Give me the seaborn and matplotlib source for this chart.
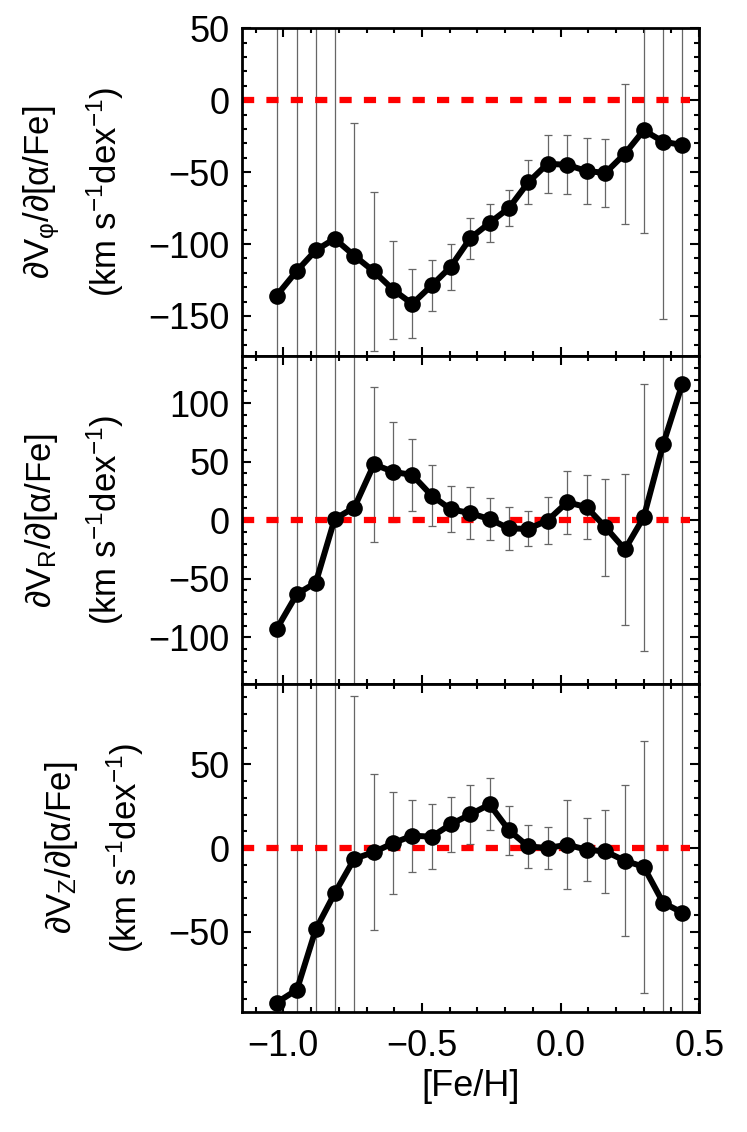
import numpy as np
import pandas as pd
import seaborn as sns
import matplotlib
matplotlib.use("Agg")
import matplotlib.pyplot as plt
from matplotlib.ticker import MultipleLocator

# ---- data ----
feh = [-1.024, -0.951, -0.883, -0.815, -0.744, -0.673, -0.603, -0.535, -0.465, -0.397, -0.326,
       -0.256, -0.186, -0.117, -0.047, 0.024, 0.094, 0.162, 0.232, 0.300, 0.370, 0.439]

dvphi = [-135.8, -118.6, -104.4, -96.3, -108.1, -119.1, -131.9, -141.6, -128.8, -116.0, -96.0,
         -85.3, -74.9, -57.2, -44.2, -44.9, -49.3, -50.5, -37.2, -20.9, -28.8, -31.2]
err_vphi = [500, 500, 500, 500, 92.5, 55.6, 34.0, 24.0, 18.0, 16.0, 14.1,
            13.3, 12.5, 15.3, 20.3, 20.5, 23.0, 23.6, 48.6, 71.2, 123.3, 500]

dvr = [-92.9, -63.1, -53.4, 0.9, 10.8, 47.7, 41.2, 38.6, 21.0, 9.4, 6.0,
       0.9, -7.1, -7.4, -0.3, 15.3, 11.1, -6.0, -25.0, 2.6, 64.8, 116.2]
err_vr = [500, 500, 500, 500, 500, 66.0, 43.0, 30.4, 26.0, 19.6, 22.0,
          18.0, 18.0, 15.0, 20.0, 27.0, 27.5, 41.3, 64.3, 114.0, 500, 500]

dvz = [-92.4, -84.7, -48.6, -27.1, -6.4, -2.4, 3.0, 7.4, 6.8, 14.1, 20.1,
       26.1, 10.6, 1.0, 0.0, 2.0, -1.0, -2.0, -7.6, -11.2, -32.7, -38.6]
err_vz = [500, 500, 500, 500, 97.0, 46.7, 30.7, 21.5, 19.3, 16.5, 17.4,
          15.5, 14.5, 12.7, 12.7, 26.6, 18.7, 24.7, 45.0, 75.4, 500, 500]

ylabels1 = ["∂V$_{\\mathrm{φ}}$/∂[α/Fe]", "∂V$_{\\mathrm{R}}$/∂[α/Fe]", "∂V$_{\\mathrm{Z}}$/∂[α/Fe]"]
ylabel2 = "(km s$^{-1}$dex$^{-1}$)"
xlabel = "[Fe/H]"

ylims = [(-178, 50), (-140, 140), (-98, 98)]
label_x = [(-0.4376, -0.2998), (-0.4376, -0.2998), (-0.394, -0.256)]

# ---- style ----
sns.set_theme(style="white")
plt.rcParams["font.family"] = ["Liberation Sans", "DejaVu Sans"]
plt.rcParams["mathtext.fontset"] = "custom"
plt.rcParams["mathtext.rm"] = "Liberation Sans"
plt.rcParams["mathtext.it"] = "Liberation Sans:italic"
plt.rcParams["mathtext.bf"] = "Liberation Sans:bold"
plt.rcParams["axes.unicode_minus"] = True
for k in ["text.color", "axes.labelcolor", "xtick.color", "ytick.color", "axes.edgecolor"]:
    plt.rcParams[k] = "black"

fig, axes = plt.subplots(3, 1, figsize=(7.47, 11.32), dpi=100, sharex=True)
fig.subplots_adjust(left=0.324, right=0.936, top=0.975, bottom=0.106, hspace=0)

series = [(dvphi, err_vphi), (dvr, err_vr), (dvz, err_vz)]
for i, (ax, (y, e)) in enumerate(zip(axes, series)):
    df = pd.DataFrame({"feh": feh, "val": y, "err": e})
    ax.errorbar(df["feh"], df["val"], yerr=df["err"], fmt="none", ecolor="0.4",
                elinewidth=0.9, capsize=3.2, capthick=0.9, zorder=1)
    ax.axhline(0, xmin=0, xmax=0.98, color="#ff0000", lw=4.5, dashes=(1.95, 1.95), zorder=2)
    sns.lineplot(data=df, x="feh", y="val", ax=ax, color="black", lw=4.3, marker="o",
                 markersize=12, markeredgewidth=0, zorder=3)
    ax.set_xlim(-1.149, 0.5)
    ax.set_ylim(*ylims[i])
    ax.yaxis.set_major_locator(MultipleLocator(50))
    ax.yaxis.set_minor_locator(MultipleLocator(10))
    ax.xaxis.set_major_locator(MultipleLocator(0.5))
    ax.xaxis.set_minor_locator(MultipleLocator(0.1))
    ax.tick_params(which="both", direction="in", top=True, right=True, bottom=True, left=True,
                   color="black", labelcolor="black", width=1.5)
    ax.tick_params(which="major", length=6.7, labelsize=26, pad=9)
    ax.tick_params(which="minor", length=3.4)
    ax.tick_params(axis="x", which="major", pad=12)
    for s in ax.spines.values():
        s.set_color("black")
        s.set_linewidth(2.0)
    ax.set_ylabel("")
    ax.set_xlabel("")
    ax.text(label_x[i][0], 0.5, ylabels1[i], rotation=90, transform=ax.transAxes,
            ha="center", va="center", fontsize=25, color="black")
    ax.text(label_x[i][1], 0.5, ylabel2, rotation=90, transform=ax.transAxes,
            ha="center", va="center", fontsize=25, color="black")

axes[-1].set_xlabel(xlabel, fontsize=26, labelpad=4, color="black")

fig.savefig("out.png", dpi=100, facecolor="white")
